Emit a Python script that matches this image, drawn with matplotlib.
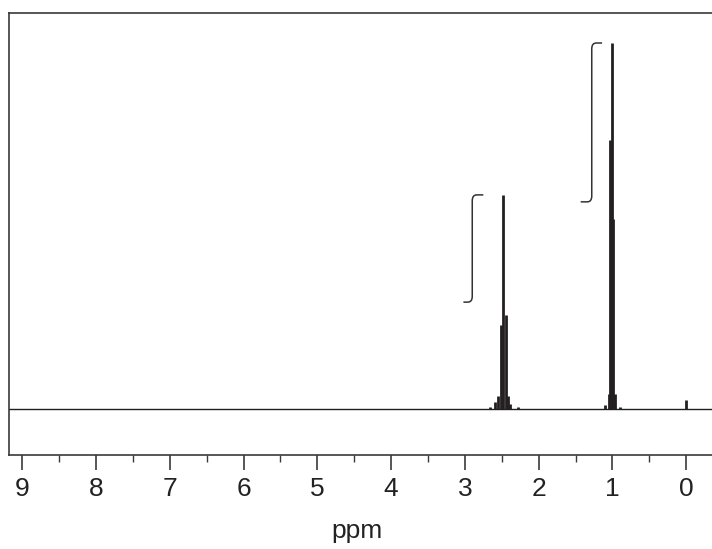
import matplotlib

matplotlib.use("Agg")
import matplotlib.pyplot as plt
from matplotlib.path import Path
from matplotlib.patches import PathPatch

# Peak list (ppm, relative height)
peak_ppm = [2.66, 2.59, 2.55, 2.508, 2.477, 2.447, 2.41, 2.39, 2.28,
            1.10, 1.05, 1.03, 1.01, 0.99, 0.96, 0.90, 0.0]
peak_height = [0.5, 2.0, 3.5, 23.0, 58.5, 25.7, 3.5, 1.5, 0.5,
               1.0, 4.0, 73.5, 100.0, 52.0, 4.0, 0.5, 2.5]

# Integral traces: start ppm, step ppm, end ppm, low level, high level
integral_start = [3.02, 1.43]
integral_step = [2.90, 1.28]
integral_end = [2.75, 1.14]
integral_low = [29.2, 56.6]
integral_high = [58.5, 100.0]

tick_ppm = list(range(0, 10))

plt.rcParams["font.family"] = ["Liberation Sans", "DejaVu Sans"]

fig = plt.figure(figsize=(7.12, 5.49), dpi=100)
ax = fig.add_axes([9 / 712, 94 / 549, 703 / 712, 442 / 549])

spec_color = "#231f20"
frame_color = "#3a3a3a"

# baseline + peaks
ax.axhline(0, color=spec_color, linewidth=1.0, zorder=2)
ax.vlines(peak_ppm, 0, peak_height, color=spec_color, linewidth=2.0, zorder=3)

# integral curves with rounded corners
rx, ry = 0.06, 1.6
for s, st, e, lo, hi in zip(integral_start, integral_step, integral_end,
                            integral_low, integral_high):
    verts = [
        (s, lo),
        (st + rx, lo),
        (st, lo), (st, lo + ry),
        (st, hi - ry),
        (st, hi), (st - rx, hi),
        (e, hi),
    ]
    codes = [Path.MOVETO, Path.LINETO, Path.CURVE3, Path.CURVE3,
             Path.LINETO, Path.CURVE3, Path.CURVE3, Path.LINETO]
    ax.add_patch(PathPatch(Path(verts, codes), facecolor="none",
                           edgecolor="#333333", linewidth=1.1, zorder=3))

ax.set_xlim(9.18, -0.35)
ax.set_ylim(-12.57, 108.2)

ax.spines["right"].set_visible(False)
for side in ["left", "top", "bottom"]:
    ax.spines[side].set_color(frame_color)
    ax.spines[side].set_linewidth(1.2)

ax.set_yticks([])
ax.set_xticks(tick_ppm)
ax.set_xticklabels([str(t) for t in tick_ppm])
ax.set_xticks([t + 0.5 for t in tick_ppm[:-1]], minor=True)
ax.tick_params(axis="x", which="major", direction="out", length=11,
               width=1.2, color=frame_color, labelsize=19, pad=5,
               labelcolor="#222222")
ax.tick_params(axis="x", which="minor", direction="out", length=5,
               width=1.0, color=frame_color)

fig.text(357 / 712, 1 - 538 / 549, "ppm", ha="center", va="baseline",
         fontsize=19, color="#222222")

fig.savefig("out.png", dpi=100)
